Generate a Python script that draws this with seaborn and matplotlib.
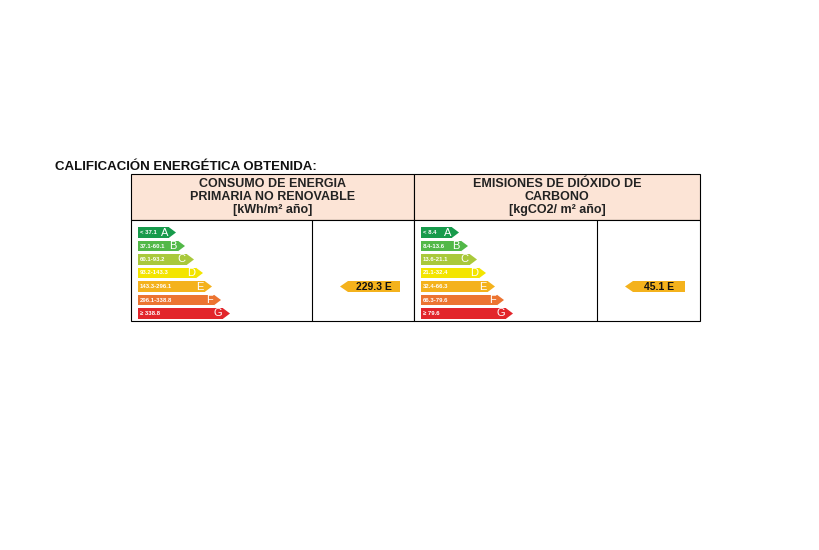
import matplotlib
matplotlib.use("Agg")
import matplotlib.pyplot as plt
import seaborn as sns
from matplotlib.patches import Polygon, Rectangle

sns.set_theme(style="white")
plt.rcParams["font.family"] = "Liberation Sans"

letters = ["A", "B", "C", "D", "E", "F", "G"]
colors = ["#179a4b", "#52b848", "#a9c93b", "#f3e500", "#f4b21c", "#ec7431", "#e2252b"]
ranges_energy = ["< 37.1", "37.1-60.1", "60.1-93.2", "93.2-143.3", "143.3-296.1", "296.1-338.8", "≥ 338.8"]
ranges_co2 = ["< 8.4", "8.4-13.6", "13.6-21.1", "21.1-32.4", "32.4-66.3", "66.3-79.6", "≥ 79.6"]
value_energy = "229.3 E"
value_co2 = "45.1 E"
rating_index = 4
titles = ["CONSUMO DE ENERGIA\nPRIMARIA NO RENOVABLE\n[kWh/m² año]",
          "EMISIONES DE DIÓXIDO DE\nCARBONO\n[kgCO2/ m² año]"]

fig = plt.figure(figsize=(8.2, 5.5), dpi=100)
ax = fig.add_axes([0, 0, 1, 1])
ax.set_xlim(0, 820)
ax.set_ylim(550, 0)
ax.axis("off")

ax.text(55, 167, "CALIFICACIÓN ENERGÉTICA OBTENIDA:", fontsize=9.5, fontweight="bold",
        va="center", ha="left", color="#111")

def panel(x0, x_mid, x1, ranges, value, title):
    ax.add_patch(Rectangle((x0, 174), x1 - x0, 46, facecolor="#fce4d6", edgecolor="black", lw=0.8))
    ax.add_patch(Rectangle((x0, 220), x1 - x0, 101, facecolor="white", edgecolor="black", lw=0.8))
    ax.plot([x_mid, x_mid], [220, 321], color="black", lw=0.8)
    ax.text((x0 + x1) / 2, 197, title, ha="center", va="center", fontsize=9,
            fontweight="bold", linespacing=1.15, color="#222")
    ys = [232.5 + i * 13.5 for i in range(7)]
    lengths = [31 + 9 * i for i in range(7)]
    ax.barh(ys, lengths, left=x0 + 7, height=10.5, color=colors, linewidth=0)
    for y, L, c, lab, let in zip(ys, lengths, colors, ranges, letters):
        xe = x0 + 7 + L
        ax.add_patch(Polygon([[xe, y - 5.25], [xe + 7, y], [xe, y + 5.25]], closed=True,
                             facecolor=c, edgecolor="none"))
        ax.text(x0 + 9, y, lab, fontsize=4.3, fontweight="bold", color="white", va="center")
        ax.text(xe - 1, y, let, fontsize=8, color="white", va="center", ha="right")
    y = ys[rating_index]
    ax.barh([y], [52], left=x1 - 61 - 52 + 52 - 52 + 0, height=11, color=colors[rating_index], lw=0) if False else None
    bx0, bx1 = x_mid + 36, x_mid + 88
    ax.barh([y], [bx1 - bx0], left=bx0, height=11, color=colors[rating_index], linewidth=0)
    ax.add_patch(Polygon([[bx0, y - 5.5], [bx0 - 8, y], [bx0, y + 5.5]], closed=True,
                         facecolor=colors[rating_index], edgecolor="none"))
    ax.text((bx0 + bx1) / 2, y, value, fontsize=7.5, fontweight="bold", color="#111",
            ha="center", va="center")

panel(131, 312, 414, ranges_energy, value_energy, titles[0])
panel(414, 597, 700, ranges_co2, value_co2, titles[1])

fig.savefig("out.png", dpi=100, facecolor="white")
